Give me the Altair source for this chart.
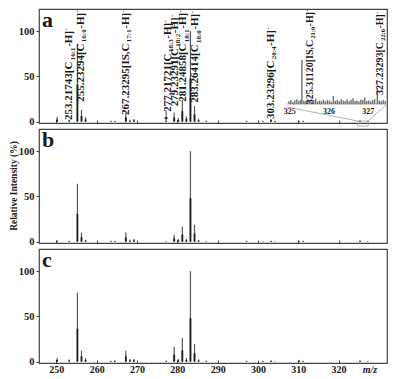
import altair as alt
import pandas as pd

FONT = "Liberation Serif"
INK = "#1a1a1a"

# ---------------- data ----------------
x_ticks = [250, 260, 270, 280, 290, 300, 310, 320]
y_ticks = [0, 50, 100]

peak_mz = [250.2, 253.2, 255.23, 256.24, 257.24, 263.5, 264.5, 267.23, 268.24, 269.23,
           277.22, 279.23, 280.24, 281.25, 282.25, 283.26, 284.27, 285.27, 287.2,
           297.2, 301.2, 303.23, 304.2, 310.2, 311.2, 325.31, 327.23]
int_a = [5, 2, 86, 13, 5, 1, 1, 10, 2, 3, 1.5, 10, 4, 24, 6, 100, 17, 3, 1,
         1, 1, 3, 1, 1, 1, 1.5, 1]
int_b = [1.5, 1, 64, 10, 2, 1, 1, 10, 2, 3, 0.5, 7.5, 3, 16.5, 3, 100, 18.5, 2, 0.5,
         1, 0.5, 1, 0.5, 1, 1, 1.5, 0.5]
int_c = [4, 2.5, 76, 12, 4, 1, 1.5, 12, 3, 3, 1, 16.5, 3, 26, 4, 100, 19.5, 2.5, 1,
         1, 1, 1.5, 0.5, 1.5, 1, 1.5, 0.5]

label_mz = [253.2, 256.0, 267.2, 277.6, 279.4, 281.5, 284.4, 303.2]
label_anchor = [67, 87, 87, 76, 82, 87, 86, 68]
label_head = ["253.21743[C", "255.23294[C", "267.23295[IS,C", "277.21721[C",
              "279.23291[C", "281.24858[C", "283.26414[C", "303.23296[C"]
label_sub = ["16:1", "16:0", "17:1", "18:3", "18:2", "18:1", "18:0", "20:4"]
LABEL_TAIL = "-H]"
LABEL_SUP = "-"

arrow_mz = [277.22]
arrow_from = [12]
arrow_to = [3]

inset_mz = [324.98, 325.03, 325.08, 325.13, 325.18, 325.23, 325.28, 325.31, 325.36, 325.41,
            325.46, 325.51, 325.56, 325.61, 325.66, 325.71, 325.76, 325.81, 325.86, 325.91,
            325.96, 326.01, 326.06, 326.11, 326.16, 326.21, 326.26, 326.31, 326.36, 326.41,
            326.46, 326.51, 326.56, 326.61, 326.66, 326.71, 326.76, 326.81, 326.86, 326.91,
            326.96, 327.01, 327.06, 327.11, 327.16, 327.23, 327.28, 327.33, 327.38, 327.43]
inset_int = [6, 9, 5, 8, 11, 7, 9, 100, 8, 6,
             10, 7, 5, 9, 12, 6, 8, 7, 10, 6,
             9, 8, 5, 18, 7, 9, 6, 11, 8, 7,
             10, 6, 9, 13, 7, 8, 6, 10, 9, 15,
             7, 8, 6, 9, 11, 36, 8, 6, 9, 7]
inset_ticks = [325, 326, 327]
inset_label_mz = [325.52, 327.3]
inset_label_anchor = [147, 142]
inset_label_head = ["325.31120[IS,C", "327.23293[C"]
inset_label_sub = ["21:0", "22:6"]
zoom_window = [324.7, 327.3]

# ---------------- layout ----------------
XMIN, XMAX = 245.7, 332.0
YMIN, YMAX = -1.5, 124.5
W, H = 348, 114
FS, FS_INSET = 11, 10

INSET_MZ0, INSET_MZ1 = 324.93, 327.45
INSET_X0, INSET_X1 = 248, 347
INSET_Y0, INSET_Y1 = 95, 51

xs = alt.Scale(domain=[XMIN, XMAX], nice=False, zero=False)
ys = alt.Scale(domain=[YMIN, YMAX], nice=False, zero=False)
xin = alt.Scale(domain=[INSET_MZ0, INSET_MZ1], range=[INSET_X0, INSET_X1], nice=False, zero=False)
yin = alt.Scale(domain=[0, 100], range=[INSET_Y0, INSET_Y1], nice=False, zero=False)


def px_x(v):
    return (v - XMIN) / (XMAX - XMIN) * W


def make_axes(bottom):
    xax = alt.Axis(values=x_ticks, labels=bottom, domain=False, tickSize=3, offset=-3,
                   tickColor="#444", labelFont=FONT, labelFontWeight="bold", labelFontSize=10,
                   labelColor=INK, labelPadding=1, grid=False, title=None)
    yax = alt.Axis(values=y_ticks, domain=False, tickSize=3, tickColor="#444", labelFont=FONT,
                   labelFontWeight="bold", labelFontSize=10.5, labelColor=INK, labelPadding=2,
                   grid=False, title=None)
    return xax, yax


def label_layers(df, xscale, yscale, xax, yax, fs):
    sfs = fs * 0.64
    dx_sub = 0.07 * fs
    dx_tail = dx_sub + 1.833 * sfs + 0.05 * fs
    dx_sup = dx_tail + 1.444 * fs + 0.03 * fs
    specs = [("head", fs, "right", -0.05 * fs, 0),
             ("sub", sfs, "left", dx_sub, 0.32 * fs),
             ("tail", fs, "left", dx_tail, 0),
             ("sup", sfs, "left", dx_sup, -0.28 * fs)]
    out = []
    for field, size, align, dx, dy in specs:
        out.append(alt.Chart(df).mark_text(angle=270, align=align, baseline="middle", dx=dx, dy=dy,
                                           font=FONT, fontWeight="bold", fontSize=size, color=INK)
                   .encode(x=alt.X("x:Q", scale=xscale, axis=xax),
                           y=alt.Y("y:Q", scale=yscale, axis=yax),
                           text=f"{field}:N"))
    return out


def text_layer(t, x, y, size, **kw):
    return alt.Chart(pd.DataFrame({"t": [t]})).mark_text(
        font=FONT, fontWeight="bold", fontSize=size, color=INK, **kw
    ).encode(x=alt.value(x), y=alt.value(y), text="t:N")


def spectrum(intens, letter, xax, yax):
    df = pd.DataFrame({"mz": peak_mz, "i": intens, "z": [0] * len(peak_mz)})
    base = alt.Chart(df)
    full = base.mark_rule(color="#555", strokeWidth=1.2).encode(
        x=alt.X("mz:Q", scale=xs, axis=xax),
        y=alt.Y("i:Q", scale=ys, axis=yax),
        y2="z:Q")
    core = base.transform_calculate(h="datum.i * 0.48").mark_rule(color=INK, strokeWidth=1.8).encode(
        x=alt.X("mz:Q", scale=xs, axis=xax),
        y=alt.Y("h:Q", scale=ys, axis=yax),
        y2="z:Q")
    extra = [text_layer(letter, 3, 18, 22, align="left", baseline="alphabetic")]
    return [full, core], extra


# ---------- panel a ----------
xax_a, yax_a = make_axes(False)
main_a, extra_a = spectrum(int_a, "a", xax_a, yax_a)
lab_df = pd.DataFrame({"x": label_mz, "y": label_anchor, "head": label_head, "sub": label_sub,
                       "tail": LABEL_TAIL, "sup": LABEL_SUP})
main_a += label_layers(lab_df, xs, ys, xax_a, yax_a, FS)
arr_df = pd.DataFrame({"x": arrow_mz, "y": arrow_from, "y2": arrow_to})
main_a.append(alt.Chart(arr_df).mark_rule(color=INK, strokeWidth=0.8).encode(
    x=alt.X("x:Q", scale=xs, axis=xax_a), y=alt.Y("y:Q", scale=ys, axis=yax_a), y2="y2:Q"))
main_a.append(alt.Chart(arr_df).mark_point(shape="triangle-down", filled=True, size=14, color=INK, opacity=1).encode(
    x=alt.X("x:Q", scale=xs, axis=xax_a), y=alt.Y("y2:Q", scale=ys, axis=yax_a)))
zw_df = pd.DataFrame({"x": [zoom_window[0]], "x2": [zoom_window[1]]})
main_a.append(alt.Chart(zw_df).mark_rect(fill=None, stroke="#a0a0a0", strokeWidth=0.8).encode(
    x=alt.X("x:Q", scale=xs, axis=xax_a), x2="x2:Q", y=alt.value(H - 2), y2=alt.value(H + 3)))

ins_df = pd.DataFrame({"mz": inset_mz, "v": inset_int, "z": [0] * len(inset_mz)})
inset = [
    alt.Chart(pd.DataFrame({"x": [INSET_MZ0], "x2": [INSET_MZ1], "y": [0]})).mark_rule(
        color="#888", strokeWidth=0.8).encode(
        x=alt.X("x:Q", scale=xin, axis=None), x2="x2:Q", y=alt.Y("y:Q", scale=yin, axis=None)),
    alt.Chart(ins_df).mark_rule(color="#707070", strokeWidth=1.4).encode(
        x=alt.X("mz:Q", scale=xin, axis=None), y=alt.Y("v:Q", scale=yin, axis=None), y2="z:Q"),
    alt.Chart(pd.DataFrame({"t": inset_ticks, "y": [0] * len(inset_ticks)})).mark_text(
        font=FONT, fontWeight="bold", fontSize=8, color=INK, dy=8, baseline="middle").encode(
        x=alt.X("t:Q", scale=xin, axis=None), y=alt.Y("y:Q", scale=yin, axis=None), text="t:N"),
]
ilab_df = pd.DataFrame({"x": inset_label_mz, "y": inset_label_anchor, "head": inset_label_head,
                        "sub": inset_label_sub, "tail": LABEL_TAIL, "sup": LABEL_SUP})
inset += label_layers(ilab_df, xin, yin, None, None, FS_INSET)

conn = alt.Chart(pd.DataFrame({"k": [0]})).mark_rule(color="#a0a0a0", strokeWidth=0.8)
connectors = [
    conn.encode(x=alt.value(INSET_X0), y=alt.value(INSET_Y0 + 3),
                x2=alt.value(px_x(zoom_window[0])), y2=alt.value(H - 2)),
    conn.encode(x=alt.value(INSET_X1), y=alt.value(INSET_Y0 + 1),
                x2=alt.value(px_x(zoom_window[1])), y2=alt.value(H - 2)),
]

panel_a = alt.layer(alt.layer(*main_a), alt.layer(*inset), *connectors, *extra_a).resolve_scale(
    x="independent", y="independent").properties(width=W, height=H)

# ---------- panel b ----------
xax_b, yax_b = make_axes(False)
main_b, extra_b = spectrum(int_b, "b", xax_b, yax_b)
extra_b.append(text_layer("Relative Intensity (%)", -25, H / 2, 9.5, angle=270, align="center",
                          baseline="middle"))
panel_b = alt.layer(*main_b, *extra_b).properties(width=W, height=H)

# ---------- panel c ----------
xax_c, yax_c = make_axes(True)
main_c, extra_c = spectrum(int_c, "c", xax_c, yax_c)
extra_c.append(alt.Chart(pd.DataFrame({"t": ["m/z"]})).mark_text(
    font=FONT, fontWeight="bold", fontStyle="italic", fontSize=10, color=INK,
    align="center", baseline="middle").encode(x=alt.value(W - 17), y=alt.value(H + 7), text="t:N"))
panel_c = alt.layer(*main_c, *extra_c).properties(width=W, height=H)

chart = alt.vconcat(panel_a, panel_b, panel_c, spacing=0).properties(
    padding={"left": 0, "top": 0, "right": 0, "bottom": 0}, background="white"
).configure_view(stroke="#444", strokeWidth=1.2)

chart.save("out.html", embed_options={"renderer": "svg", "actions": False})
